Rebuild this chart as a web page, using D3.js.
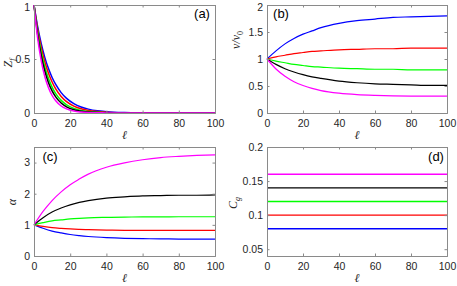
<!DOCTYPE html>
<html><head><meta charset="utf-8">
<script src="https://cdn.jsdelivr.net/npm/d3@7"></script>
<style>body{margin:0;background:#fff}svg{display:block}</style>
</head><body>
<svg id="c" width="457" height="286"></svg>
<script>
// ---- data ----
const seriesNames = ["blue","red","green","black","magenta"];
const seriesColors = ["#0000ff","#ff0000","#00ff00","#000000","#ff00ff"];

const xA = [0,2,4,6,8,10,12,15,18,22,26,30,35,40,50,60,70,80,90,100];
const zfBlue    = [1,0.801,0.641,0.513,0.411,0.329,0.264,0.189,0.135,0.087,0.056,0.036,0.020,0.012,0.004,0.001,0,0,0,0];
const zfRed     = [1,0.779,0.607,0.472,0.368,0.287,0.223,0.153,0.105,0.064,0.039,0.024,0.013,0.007,0.002,0,0,0,0,0];
const zfGreen   = [1,0.751,0.565,0.424,0.319,0.240,0.180,0.117,0.076,0.043,0.024,0.014,0.007,0.003,0.001,0,0,0,0,0];
const zfBlack   = [1,0.728,0.530,0.386,0.281,0.205,0.149,0.092,0.057,0.030,0.016,0.009,0.004,0.002,0,0,0,0,0,0];
const zfMagenta = [1,0.695,0.483,0.336,0.234,0.162,0.113,0.065,0.038,0.018,0.009,0.004,0.002,0.001,0,0,0,0,0,0];

const xB = [0,5,10,15,20,25,30,40,50,60,70,80,90,100];
const vBlue    = [1,1.15,1.28,1.38,1.46,1.52,1.58,1.66,1.71,1.74,1.77,1.78,1.79,1.80];
const vRed     = [1,1.04,1.07,1.10,1.12,1.14,1.15,1.17,1.18,1.19,1.19,1.20,1.20,1.20];
const vGreen   = [1,0.96,0.93,0.90,0.88,0.86,0.85,0.83,0.82,0.81,0.81,0.80,0.80,0.80];
const vBlack   = [1,0.90,0.82,0.76,0.71,0.67,0.64,0.59,0.56,0.54,0.53,0.52,0.51,0.51];
const vMagenta = [1,0.815,0.68,0.58,0.51,0.455,0.415,0.367,0.34,0.326,0.318,0.314,0.312,0.311];

const aBlue    = [1,0.89,0.80,0.74,0.69,0.655,0.627,0.59,0.568,0.557,0.549,0.545,0.542,0.54];
const aRed     = [1,0.95,0.91,0.886,0.868,0.854,0.844,0.832,0.826,0.823,0.822,0.82,0.82,0.82];
const aGreen   = [1,1.07,1.13,1.16,1.19,1.21,1.225,1.24,1.25,1.255,1.258,1.26,1.26,1.26];
const aBlack   = [1,1.23,1.41,1.54,1.64,1.72,1.78,1.86,1.90,1.93,1.94,1.95,1.95,1.96];
const aMagenta = [1,1.43,1.78,2.06,2.29,2.47,2.63,2.85,2.99,3.09,3.16,3.20,3.23,3.25];

const xD = [0,100];
const cgBlue = [0.08,0.08], cgRed = [0.10,0.10], cgGreen = [0.12,0.12], cgBlack = [0.14,0.14], cgMagenta = [0.16,0.16];

const xTicks = [0,20,40,60,80,100];
const yTicksA = [0,0.5,1];
const yTicksB = [0,0.5,1,1.5,2];
const yTicksC = [0,1,2,3];
const yTicksD = [0.05,0.1,0.15,0.2];

const panels = [
  {x0:34,x1:215,y0:5,y1:113, ydom:[0,1], yticks:yTicksA, xs:xA, ys:[zfBlue,zfRed,zfGreen,zfBlack,zfMagenta], label:"(a)", lx:202, ly:15, ylab:"Zf", lw:1.5, lxo:22, lyc:63},
  {x0:267,x1:447,y0:5,y1:113, ydom:[0,2], yticks:yTicksB, xs:xB, ys:[vBlue,vRed,vGreen,vBlack,vMagenta], label:"(b)", lx:281, ly:15, ylab:"v", lw:1.2, lxo:27, lyc:40},
  {x0:34,x1:215,y0:147,y1:256, ydom:[0,3.5], yticks:yTicksC, xs:xB, ys:[aBlue,aRed,aGreen,aBlack,aMagenta], label:"(c)", lx:50, ly:158, ylab:"alpha", lw:1.2, lxo:18, lyc:202},
  {x0:267,x1:447,y0:147,y1:256, ydom:[0.04,0.2], yticks:yTicksD, xs:xD, ys:[cgBlue,cgRed,cgGreen,cgBlack,cgMagenta], label:"(d)", lx:436, ly:158, ylab:"Cg", lw:1.3, lxo:30, lyc:203}
];

const svg = d3.select("#c");
const axisCol = "#8a8a8a";
const txtCol = "#262626";
const font = "Liberation Sans, Arial, sans-serif";

panels.forEach(p => {
  const x = d3.scaleLinear().domain([0,100]).range([p.x0,p.x1]);
  const y = d3.scaleLinear().domain(p.ydom).range([p.y1,p.y0]);
  const g = svg.append("g");
  // lines
  const line = d3.line().x(d=>x(d[0])).y(d=>y(d[1])).curve(d3.curveMonotoneX);
  p.ys.forEach((s,k) => {
    g.append("path").datum(p.xs.map((xv,i)=>[xv,s[i]]))
      .attr("d", line).attr("fill","none")
      .attr("stroke", seriesColors[k]).attr("stroke-width", p.lw);
  });
  // axes (MATLAB-style box with inward ticks)
  const tl = 2.5;
  const bottom = d3.axisBottom(x).tickValues(xTicks).tickSize(-tl).tickPadding(7).tickFormat(d3.format("d"));
  const top = d3.axisTop(x).tickValues(xTicks).tickSize(-tl).tickFormat("");
  const left = d3.axisLeft(y).tickValues(p.yticks).tickSize(-tl).tickPadding(4).tickFormat(d=>String(d));
  const right = d3.axisRight(y).tickValues(p.yticks).tickSize(-tl).tickFormat("");
  const ab = g.append("g").attr("transform",`translate(0,${p.y1})`).call(bottom);
  const at = g.append("g").attr("transform",`translate(0,${p.y0})`).call(top);
  const al = g.append("g").attr("transform",`translate(${p.x0},0)`).call(left);
  const ar = g.append("g").attr("transform",`translate(${p.x1},0)`).call(right);
  [ab,at,al,ar].forEach(a => {
    a.select(".domain").attr("stroke",axisCol).attr("stroke-width",1);
    a.selectAll(".tick line").attr("stroke",axisCol);
    a.selectAll("text").attr("fill",txtCol).style("font-family",font).style("font-size","10.5px");
  });
  // keep the topmost y tick label inside the picture
  al.selectAll(".tick text").filter(d => y(d) < 8).attr("dy","0.5em");
  // x label
  g.append("text").attr("x",(p.x0+p.x1)/2).attr("y",p.y1+26)
    .attr("text-anchor","middle").style("font-family","DejaVu Serif, serif").style("font-style","italic")
    .style("font-size","12px").attr("fill",txtCol).text("ℓ");
  // y label
  const yl = g.append("text").attr("transform",`translate(${p.x0-p.lxo},${p.lyc}) rotate(-90)`)
    .attr("text-anchor","middle").style("font-family","Liberation Serif, serif").style("font-style","italic")
    .style("font-size","12px").attr("fill",txtCol);
  if (p.ylab==="Zf") {
    yl.append("tspan").text("Z");
    yl.append("tspan").attr("dy",3).style("font-size","8px").text("f");
  } else if (p.ylab==="v") {
    yl.append("tspan").text("v/v");
    yl.append("tspan").attr("dy",3).style("font-size","8px").style("font-style","normal").text("0");
  } else if (p.ylab==="alpha") {
    yl.text("α");
  } else {
    yl.append("tspan").text("C");
    yl.append("tspan").attr("dy",3).style("font-size","8px").text("g");
  }
  // panel letter
  g.append("text").attr("x",p.lx).attr("y",p.ly).attr("text-anchor","middle")
    .attr("dominant-baseline","middle")
    .style("font-family",font).style("font-size","13px").attr("fill","#000").text(p.label);
});
</script>
</body></html>
